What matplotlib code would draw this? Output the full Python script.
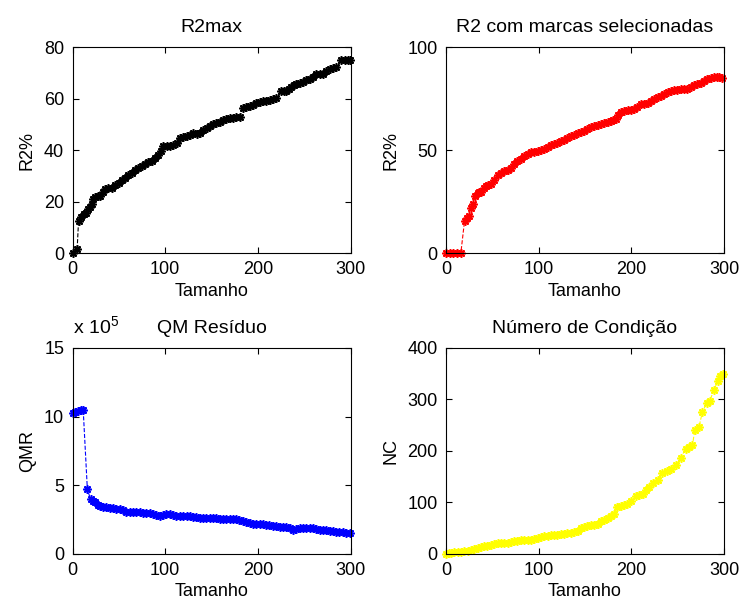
import matplotlib
matplotlib.use("Agg")
import matplotlib.pyplot as plt

plt.rcParams['font.family'] = ['Liberation Sans', 'DejaVu Sans']
plt.rcParams['mathtext.fontset'] = 'custom'
plt.rcParams['mathtext.rm'] = 'Liberation Sans'
plt.rcParams['font.size'] = 13

# R2max por tamanho da amostra
r2max_x = [0, 5, 6.5, 9, 11.9, 14.5, 17.2, 19, 20.8, 22.6, 24.4, 27, 29.8, 32.5,
           35.2, 38.8, 42.4, 46, 49.6, 53, 56.7, 60.3, 63.9, 67.5, 71.1, 74.7, 78.3,
           81.9, 85.5, 89.1, 92.7, 95.5, 98.1, 101.7, 105.2, 108.8, 112.4, 116, 119.6,
           123.2, 126.8, 130.4, 134, 137.5, 141, 144.6, 148.2, 151.6, 155.2, 158.8,
           162.4, 166, 169.6, 173.1, 176.7, 180.3, 183.9, 187.5, 191.1, 194.7, 198.3,
           201.9, 205.5, 209.1, 212.7, 216.3, 219.9, 225.3, 228, 230.7, 233.4, 236.1,
           238.8, 241.5, 245, 248.6, 252.2, 255.8, 259.4, 263, 266.5, 270.1, 273.7,
           277.3, 280.9, 284.5, 289.9, 293.5, 297, 299.5]
r2max_y = [0, 1.7, 12.6, 14, 15.2, 15.4, 17.1, 18, 19, 21, 21.8, 22.1, 22.2, 23.6,
           24.8, 25.1, 25.4, 26.3, 27.3, 28.2, 29.2, 30.2, 31.2, 32.2, 33.1, 33.9, 34.6,
           35.2, 35.9, 37, 38.2, 39.8, 41.4, 41.4, 41.4, 42, 42.7, 44.6, 45, 45.3, 45.9,
           46.5, 46.4, 46.7, 47.7, 48.6, 49.3, 50, 50.5, 51, 51.6, 52.1, 52.4, 52.6,
           52.8, 53, 56.2, 56.7, 57.2, 57.6, 58.1, 58.6, 59, 59.2, 59.4, 59.8, 60.3,
           62.8, 62.8, 62.8, 63.6, 64.5, 65.1, 65.8, 66.1, 66.4, 67, 67.5, 68.5, 69.6,
           69.6, 69.6, 70.5, 71.5, 71.8, 72.2, 74.8, 74.8, 74.8, 75]

# R2 com marcas selecionadas
r2sel_x = [0, 4, 8, 12, 16, 20, 22.5, 25, 27, 29, 31.5, 34, 36, 38, 40.5, 43, 45.7,
           48.5, 52, 55.7, 59.3, 63, 66.5, 70, 73.5, 77, 80.7, 84.5, 88, 91.6, 95.2,
           98.8, 102.4, 106, 109.5, 113, 116.5, 120, 123.7, 127.5, 131, 134.7, 138.3,
           142, 145.5, 149, 152.5, 156, 159.7, 163.5, 167, 170.7, 174.3, 178, 180.5,
           183, 185.8, 188.6, 192.3, 196, 199.5, 203, 206.5, 210, 213.7, 217.4, 221,
           224.6, 228.2, 231.8, 235.4, 239, 242.5, 246, 249.5, 253, 256.7, 260.5, 264,
           267.7, 271.3, 275, 278.5, 282, 285.5, 289, 292, 295, 298]
r2sel_y = [0, 0, 0, 0, 0, 15.7, 17, 18.1, 22, 23.7, 27.5, 29, 29.4, 29.8, 31.5, 32.5,
           33, 33.3, 35.5, 37.8, 38.8, 39.7, 40.2, 41.3, 43, 44.6, 45.8, 47, 48.2, 49,
           49.2, 49.4, 50, 50.6, 51.5, 52.2, 52.8, 53.4, 54.2, 55, 55.8, 56.6, 57.4,
           58.2, 58.5, 59, 60.3, 61.4, 61.8, 62.2, 62.6, 63, 63.6, 64.1, 64.6, 65, 66.8,
           68.6, 69, 69.4, 69.5, 69.7, 70.9, 72.1, 72.5, 72.9, 74, 75, 75.6, 76.3, 77.3,
           78.2, 78.6, 79, 79.3, 79.5, 79.5, 79.5, 80.5, 81.4, 82, 82.7, 83.7, 84.6, 85,
           85.4, 85.5, 85.3, 85.1]

# Quadrado medio do residuo (x 10^5)
qmr_x = [0, 3, 6, 9, 11.5, 16, 19.4, 21.7, 24, 27, 29.5, 33, 36.6, 40, 43.8, 47.4,
         51, 54.5, 58, 61.5, 65, 68.8, 72.6, 76.2, 79.8, 83.4, 87, 90.5, 94, 97.5, 101,
         104.7, 108.5, 112, 115.7, 119.3, 123, 126.5, 130, 133.5, 137, 140.7, 144.5,
         148, 151.6, 155.2, 158.8, 162.4, 166, 169.5, 173, 176.5, 180, 183.7, 187.5,
         191, 194.7, 198.3, 202, 205.5, 209, 212.5, 216, 219.7, 223.5, 227, 230.7,
         234.3, 238, 241.5, 245, 248.5, 252, 255.7, 259.5, 263, 266.6, 270.2, 273.8,
         277.4, 281, 284.5, 288, 291.5, 295, 299]
qmr_y = [10.26, 10.33, 10.4, 10.45, 10.5, 4.7, 4.0, 3.85, 3.76, 3.6, 3.5, 3.45, 3.4,
         3.38, 3.35, 3.3, 3.28, 3.18, 3.09, 3.06, 3.04, 3.04, 3.04, 3.0, 2.97, 2.95,
         2.92, 2.86, 2.8, 2.86, 2.92, 2.88, 2.85, 2.8, 2.78, 2.79, 2.8, 2.76, 2.73,
         2.68, 2.63, 2.63, 2.63, 2.63, 2.63, 2.6, 2.56, 2.55, 2.54, 2.54, 2.54, 2.52,
         2.49, 2.4, 2.32, 2.26, 2.2, 2.2, 2.2, 2.15, 2.1, 2.08, 2.06, 2.03, 2.0, 1.98,
         1.96, 1.87, 1.77, 1.85, 1.91, 1.91, 1.91, 1.9, 1.89, 1.83, 1.77, 1.75, 1.72,
         1.68, 1.65, 1.63, 1.6, 1.58, 1.56, 1.55]
qmr_scale = 1e5

# Numero de condicao
nc_x = [0, 3, 5, 8.5, 12.6, 16, 19.8, 23.5, 27, 30.5, 34, 37.5, 41, 44.7, 48.5, 52,
        55.7, 59.3, 63, 66.5, 70, 73.5, 77, 80.7, 84.5, 88, 91.6, 95.2, 98.8, 102.4,
        106, 109.5, 113, 116.5, 120, 124, 127.5, 131, 134.7, 138.3, 142, 145.5, 149,
        152.5, 156.3, 159.7, 163.5, 167, 170.7, 174.3, 177.9, 181.5, 185, 188.6,
        192.2, 195.8, 199.4, 204.8, 208.4, 212, 215.6, 219.2, 223.7, 228.2, 233.5,
        238, 242.5, 248, 253.3, 258.7, 262.3, 265.9, 268.4, 273, 276.7, 281.4, 284.6,
        289.3, 293, 296, 298.5]
nc_y = [0, 1, 2, 3, 4, 4.5, 5, 6, 7, 9.5, 11.6, 13.5, 15, 16.5, 18, 19.5, 21, 21, 21,
        21.8, 22.6, 24.3, 26, 27, 28, 27.3, 26.5, 28.7, 31, 33.3, 35.6, 35.8, 36, 36.8,
        37.5, 38.5, 39.5, 40.2, 41, 42.5, 44, 50, 52, 53.5, 56, 57, 59, 64, 66, 70, 74,
        77.7, 91.5, 93, 95.5, 98, 102, 113, 114, 116.5, 124, 131, 137, 144, 157, 161,
        165.5, 172, 187, 204.7, 208, 211, 240.6, 247, 276.5, 293, 298, 319, 335, 345,
        350]

fig = plt.figure(figsize=(7.44, 6.05), dpi=100)

# posicoes dos quatro eixos (esquerda, baixo, largura, altura)
w, h = 0.3737, 0.3405
ax1 = fig.add_axes([0.0975, 0.5818, w, h])
ax2 = fig.add_axes([0.5995, 0.5818, w, h])
ax3 = fig.add_axes([0.0975, 0.0843, w, h])
ax4 = fig.add_axes([0.5995, 0.0843, w, h])

star = (8, 2, 0)  # asterisco de 8 pontas
style = dict(linestyle='--', linewidth=0.8, marker=star, markersize=6,
             markeredgewidth=1.2)

ax1.plot(r2max_x, r2max_y, color='black', **style)
ax1.set_title('R2max', pad=11, fontsize=14)
ax1.set_ylabel('R2%', labelpad=6)
ax1.set_ylim(0, 80)
ax1.set_yticks([0, 20, 40, 60, 80])

ax2.plot(r2sel_x, r2sel_y, color='#ff0000', **style)
ax2.set_title('R2 com marcas selecionadas', pad=11, fontsize=14)
ax2.set_ylabel('R2%', labelpad=6)
ax2.set_ylim(0, 100)
ax2.set_yticks([0, 50, 100])

ax3.plot(qmr_x, [v * qmr_scale for v in qmr_y], color='#0000ff', **style)
ax3.set_title('QM Resíduo', pad=11, fontsize=14)
ax3.set_ylabel('QMR', labelpad=6)
ax3.set_ylim(0, 15e5)
ax3.set_yticks([0, 5e5, 10e5, 15e5])
ax3.set_yticklabels(['0', '5', '10', '15'])
ax3.text(0.0, 1.05, r'x 10$^{5}$', transform=ax3.transAxes, ha='left',
         va='bottom', fontsize=14)

ax4.plot(nc_x, nc_y, color='#ffff00', **style)
ax4.set_title('Número de Condição', pad=11, fontsize=14)
ax4.set_ylabel('NC', labelpad=6)
ax4.set_ylim(0, 400)
ax4.set_yticks([0, 100, 200, 300, 400])

for ax in (ax1, ax2, ax3, ax4):
    ax.set_xlim(0, 300)
    ax.set_xticks([0, 100, 200, 300])
    ax.set_xlabel('Tamanho', labelpad=3)
    ax.tick_params(direction='in', top=True, right=True, length=4, width=0.8,
                   pad=6, colors='black')
    for s in ax.spines.values():
        s.set_linewidth(0.8)
    for c in ax.lines:
        c.set_clip_on(False)

fig.savefig('out.png', dpi=100)
